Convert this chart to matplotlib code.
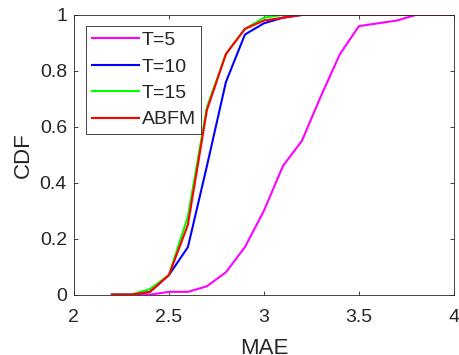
import matplotlib
matplotlib.use('Agg')
import matplotlib.pyplot as plt

plt.rcParams['font.family'] = ['Liberation Sans', 'DejaVu Sans']

# dados
mae = [2.2, 2.3, 2.4, 2.5, 2.6, 2.7, 2.8, 2.9, 3.0, 3.1, 3.2, 3.3, 3.4, 3.5, 3.6, 3.7, 3.8, 3.9, 4.0]
cdf_t5 = [0, 0, 0.0, 0.01, 0.01, 0.03, 0.08, 0.17, 0.30, 0.46, 0.55, 0.71, 0.86, 0.96, 0.97, 0.98, 1, 1, 1]
cdf_t10 = [0, 0, 0.01, 0.07, 0.17, 0.46, 0.76, 0.93, 0.97, 0.99, 1, 1, 1, 1, 1, 1, 1, 1, 1]
cdf_t15 = [0, 0, 0.02, 0.07, 0.28, 0.67, 0.86, 0.95, 0.99, 1, 1, 1, 1, 1, 1, 1, 1, 1, 1]
cdf_abfm = [0, 0, 0.01, 0.07, 0.25, 0.66, 0.86, 0.95, 0.98, 0.99, 1, 1, 1, 1, 1, 1, 1, 1, 1]
nomes = ['T=5', 'T=10', 'T=15', 'ABFM']
cores = ['#ff00ff', '#0000ff', '#00ff00', '#ff0000']

fig = plt.figure(figsize=(4.59, 3.55), dpi=100)
ax = fig.add_axes([0.161, 0.170, 0.828, 0.788])

for y, nome, cor in zip([cdf_t5, cdf_t10, cdf_t15, cdf_abfm], nomes, cores):
    ax.plot(mae, y, color=cor, lw=1.5, label=nome)

cinza = '#262626'
ax.set_xlim(2, 4)
ax.set_ylim(0, 1)
ax.set_xticks([2, 2.5, 3, 3.5, 4])
ax.set_xticklabels(['2', '2.5', '3', '3.5', '4'])
ax.set_yticks([0, 0.2, 0.4, 0.6, 0.8, 1])
ax.set_yticklabels(['0', '0.2', '0.4', '0.6', '0.8', '1'])
ax.tick_params(direction='in', top=True, right=True, labelsize=14, colors=cinza,
               length=3, width=0.6)
ax.tick_params(axis='x', pad=10)
ax.tick_params(axis='y', pad=5)
for s in ax.spines.values():
    s.set_color(cinza)
    s.set_linewidth(0.6)
ax.set_xlabel('MAE', fontsize=16, color=cinza, labelpad=9)
ax.set_ylabel('CDF', fontsize=16, color=cinza, labelpad=4)

leg = ax.legend(loc='upper left', bbox_to_anchor=(0.032, 0.961), fontsize=14,
                handlelength=2.4, handletextpad=0.15, borderpad=0.3,
                labelspacing=0.45, fancybox=False, framealpha=1, borderaxespad=0)
leg.get_frame().set_edgecolor(cinza)
leg.get_frame().set_linewidth(0.6)
for t in leg.get_texts():
    t.set_color(cinza)

fig.savefig('out.png', dpi=100)
